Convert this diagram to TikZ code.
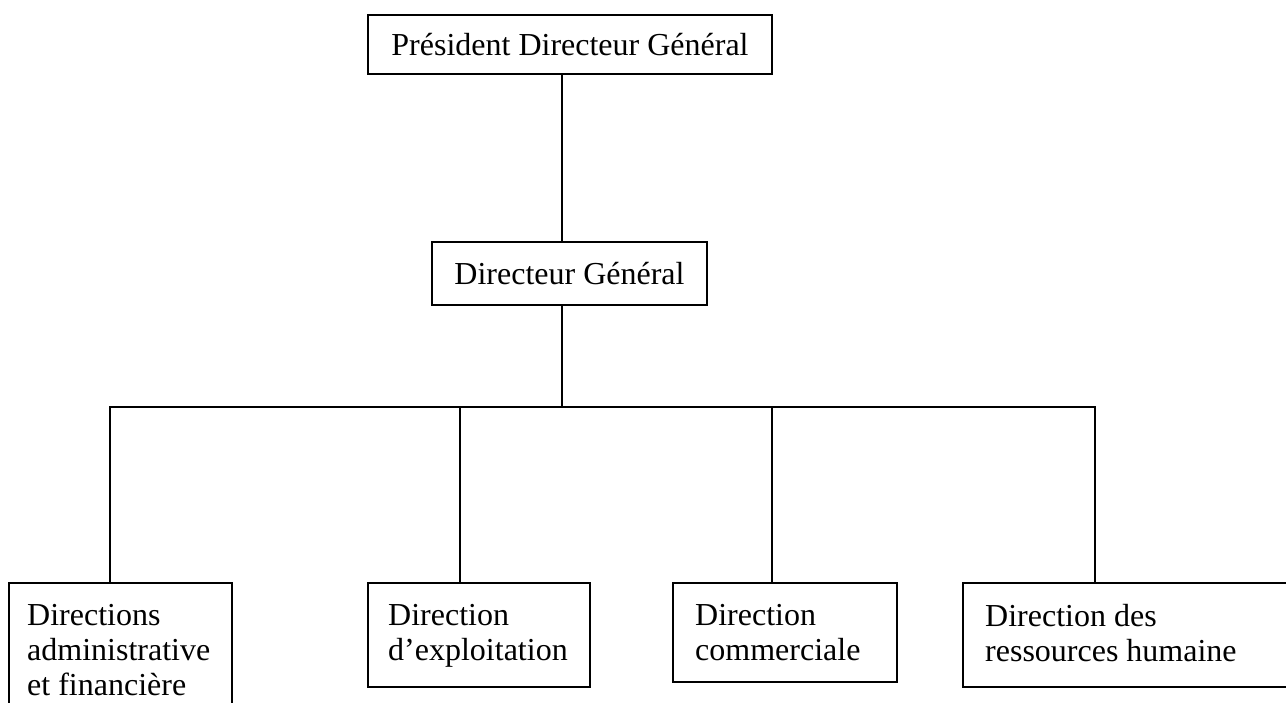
\documentclass[tikz,border=0pt]{standalone}
\usepackage{fontspec}
\setmainfont{Liberation Serif}
\begin{document}
\begin{tikzpicture}[x=1pt,y=-1pt,
  line/.style={line width=1.3pt, line cap=rect},
  box/.style={draw, line width=1.3pt, rectangle, inner sep=0pt, font=\fontsize{32}{35}\selectfont},
  lbl/.style={font=\fontsize{32}{35}\selectfont, align=left, anchor=north west, inner sep=0pt}]
\useasboundingbox (0,0) rectangle (1286,702);
\clip (0,0) rectangle (1286,702);
% top levels
\node[box, minimum width=404pt, minimum height=59pt] (pdg) at (570,44.5) {Président Directeur Général};
\node[box, minimum width=275pt, minimum height=63pt] (dg) at (569.5,273.5) {Directeur Général};
% bottom boxes
\node[box, minimum width=223pt, minimum height=150pt] (b1) at (120.5,658) {};
\node[box, minimum width=222pt, minimum height=104pt] (b2) at (479,635) {};
\node[box, minimum width=224pt, minimum height=99pt] (b3) at (785,632.5) {};
\node[box, minimum width=340pt, minimum height=104pt] (b4) at (1133,635) {};
% labels
\node[lbl] (t1) at (27,604) {Directions\\administrative\\et financière};
\node[lbl] (t2) at (388,604) {Direction\\d’exploitation};
\node[lbl] (t3) at (695,604) {Direction\\commerciale};
\node[lbl] (t4) at (985,604) {Direction des\\ressources humaine};
% connectors
\coordinate (trunk) at (562,407);
\coordinate (d1) at (110,407);
\coordinate (d2) at (460,407);
\coordinate (d3) at (772,407);
\coordinate (d4) at (1095,407);
\draw[line] (trunk |- pdg.south) -- (trunk |- dg.north);
\draw[line] (trunk |- dg.south) -- (trunk);
\draw[line] (d1 |- b1.north) -- (d1) -- (d4) -- (d4 |- b4.north);
\draw[line] (d2) -- (d2 |- b2.north);
\draw[line] (d3) -- (d3 |- b3.north);
\end{tikzpicture}
\end{document}
